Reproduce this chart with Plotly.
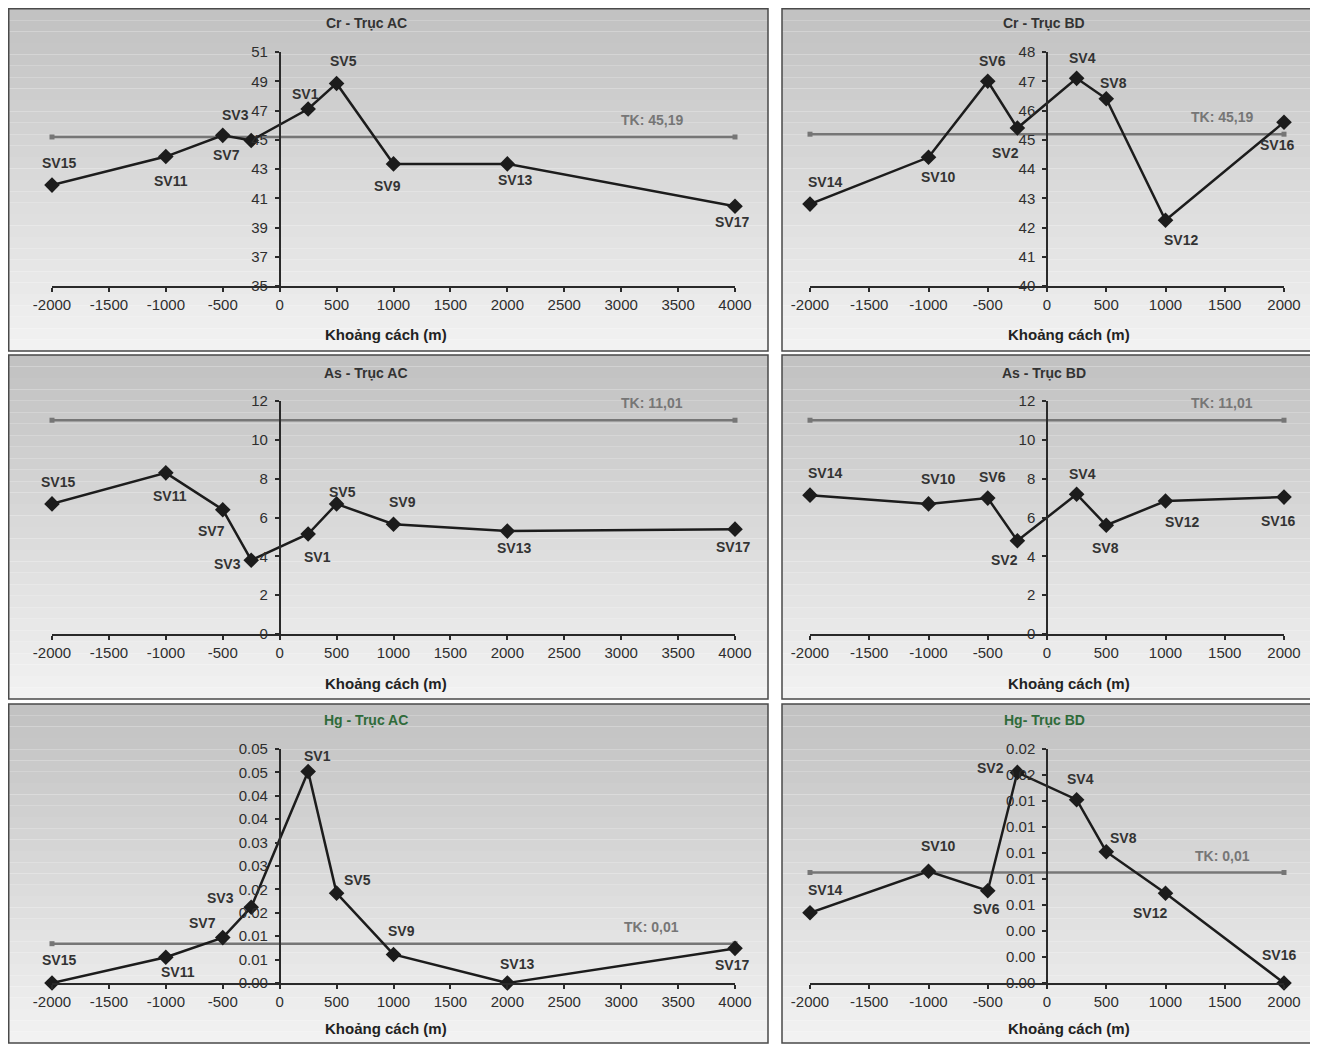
import plotly.graph_objects as go

# page body has an 8px margin: the figure is drawn at (8, 8) in the window
OX, OY = 8, 8
W, H = 1318 - OX, 1046 - OY

# ---------------- DATA ----------------
ac_x = [-2000, -1000, -500, -250, 250, 500, 1000, 2000, 4000]
ac_names = ["SV15", "SV11", "SV7", "SV3", "SV1", "SV5", "SV9", "SV13", "SV17"]
bd_x = [-2000, -1000, -500, -250, 250, 500, 1000, 2000]
bd_names = ["SV14", "SV10", "SV6", "SV2", "SV4", "SV8", "SV12", "SV16"]

cr_ac = [41.9, 43.85, 45.3, 44.95, 47.1, 48.85, 43.35, 43.35, 40.45]
cr_bd = [42.8, 44.4, 47.0, 45.4, 47.1, 46.4, 42.25, 45.6]
as_ac = [6.7, 8.3, 6.4, 3.8, 5.15, 6.7, 5.65, 5.3, 5.4]
as_bd = [7.15, 6.7, 7.0, 4.8, 7.2, 5.6, 6.85, 7.05]
hg_ac = [0.0, 0.0055, 0.0097, 0.0162, 0.0452, 0.0192, 0.0061, 0.0, 0.0074]
hg_bd = [0.0054, 0.0086, 0.0071, 0.0162, 0.0141, 0.0101, 0.0069, 0.0]

tk_cr = 45.19
tk_as = 11.01
tk_hg_ac = 0.0084
tk_hg_bd = 0.0085
tk_cr_text = "TK: 45,19"
tk_as_text = "TK: 11,01"
tk_hg_text = "TK: 0,01"

titles = ["Cr - Trục AC", "Cr - Trục BD", "As - Trục AC", "As - Trục BD",
          "Hg - Trục AC", "Hg- Trục BD"]
x_title = "Khoảng cách (m)"

x_ac_ticks = [-2000, -1500, -1000, -500, 0, 500, 1000, 1500, 2000, 2500, 3000, 3500, 4000]
x_ac_labels = ["-2000", "-1500", "-1000", "-500", "0", "500", "1000", "1500",
               "2000", "2500", "3000", "3500", "4000"]
x_bd_ticks = [-2000, -1500, -1000, -500, 0, 500, 1000, 1500, 2000]
x_bd_labels = ["-2000", "-1500", "-1000", "-500", "0", "500", "1000", "1500", "2000"]

y_cr_ac_ticks = [35, 37, 39, 41, 43, 45, 47, 49, 51]
y_cr_ac_labels = ["35", "37", "39", "41", "43", "45", "47", "49", "51"]
y_cr_bd_ticks = [40, 41, 42, 43, 44, 45, 46, 47, 48]
y_cr_bd_labels = ["40", "41", "42", "43", "44", "45", "46", "47", "48"]
y_as_ticks = [0, 2, 4, 6, 8, 10, 12]
y_as_labels = ["0", "2", "4", "6", "8", "10", "12"]
y_hg_ac_ticks = [0, 0.005, 0.01, 0.015, 0.02, 0.025, 0.03, 0.035, 0.04, 0.045, 0.05]
y_hg_ac_labels = ["0.00", "0.01", "0.01", "0.02", "0.02", "0.03", "0.03", "0.04",
                  "0.04", "0.05", "0.05"]
y_hg_bd_ticks = [0, 0.002, 0.004, 0.006, 0.008, 0.010, 0.012, 0.014, 0.016, 0.018]
y_hg_bd_labels = ["0.00", "0.00", "0.00", "0.01", "0.01", "0.01", "0.01", "0.01",
                  "0.02", "0.02"]

# ---------------- STYLE / LAYOUT ----------------
FONT = "Liberation Sans, Arial, sans-serif"
TXT = "#2e2e2e"
GREEN = "#2f6b3a"
TKC = "#767676"

# label offsets (px, dx right, dy up)
off = [
    [(7, 22), (5, -24), (4, -20), (-16, 25), (-3, 15), (7, 22), (-6, -22), (8, -16), (-3, -16)],
    [(15, 22), (9, -20), (5, 20), (-12, -25), (6, 20), (7, 16), (15, -20), (-7, -23)],
    [(6, 22), (4, -23), (-11, -21), (-24, -4), (9, -23), (6, 12), (9, 22), (7, -17), (-2, -18)],
    [(15, 22), (9, 25), (5, 21), (-13, -19), (6, 20), (-1, -23), (16, -21), (-6, -24)],
    [(7, 23), (12, -15), (-20, 15), (-31, 9), (9, 15), (21, 13), (8, 23), (10, 19), (-3, -17)],
    [(15, 23), (9, 25), (-1, -18), (-27, 4), (4, 21), (17, 14), (-16, -20), (-5, 28)],
]

# window pixel positions
cols_px = [(52, 735), (810, 1284)]
rows_px = [(52, 286), (401, 634), (749, 983)]
frames_x = [(8.75, 768), (782, 1312)]
frames_y = [(8.75, 351), (355, 699), (704, 1043)]
title_x = [366, 1044]
title_y = [23, 373, 720]
xt_x = [386, 1069]
xt_y = [334, 683, 1028]

panels = [
    dict(x=ac_x, y=cr_ac, n=ac_names, tk=tk_cr, tkt=tk_cr_text, yr=[35, 51],
         yt=(y_cr_ac_ticks, y_cr_ac_labels)),
    dict(x=bd_x, y=cr_bd, n=bd_names, tk=tk_cr, tkt=tk_cr_text, yr=[40, 48],
         yt=(y_cr_bd_ticks, y_cr_bd_labels)),
    dict(x=ac_x, y=as_ac, n=ac_names, tk=tk_as, tkt=tk_as_text, yr=[0, 12],
         yt=(y_as_ticks, y_as_labels)),
    dict(x=bd_x, y=as_bd, n=bd_names, tk=tk_as, tkt=tk_as_text, yr=[0, 12],
         yt=(y_as_ticks, y_as_labels)),
    dict(x=ac_x, y=hg_ac, n=ac_names, tk=tk_hg_ac, tkt=tk_hg_text, yr=[0, 0.05],
         yt=(y_hg_ac_ticks, y_hg_ac_labels)),
    dict(x=bd_x, y=hg_bd, n=bd_names, tk=tk_hg_bd, tkt=tk_hg_text, yr=[0, 0.018],
         yt=(y_hg_bd_ticks, y_hg_bd_labels)),
]

fig = go.Figure()
layout = dict(
    width=W, height=H, margin=dict(l=0, r=0, t=0, b=0, pad=0, autoexpand=False),
    paper_bgcolor="white", plot_bgcolor="rgba(0,0,0,0)",
    showlegend=False, font=dict(family=FONT, color=TXT, size=15),
)
shapes = []
annotations = []

def px_x(p):
    return (p - OX) / W

def px_y(p):
    return 1 - (p - OY) / H

# background frames with vertical gradient
NB = 30
for r in range(3):
    for c in range(2):
        x0, x1 = frames_x[c]
        y0, y1 = frames_y[r]
        for b in range(NB):
            t = b / (NB - 1)
            g = int(194 + (242 - 194) * t)
            ya = y0 + (y1 - y0) * b / NB
            yb = y0 + (y1 - y0) * (b + 1) / NB
            shapes.append(dict(type="rect", xref="paper", yref="paper",
                               x0=px_x(x0), x1=px_x(x1), y0=px_y(yb), y1=px_y(ya),
                               fillcolor=f"rgb({g},{g},{g})", line=dict(width=0),
                               layer="below"))
        shapes.append(dict(type="rect", xref="paper", yref="paper",
                           x0=px_x(x0), x1=px_x(x1), y0=px_y(y1), y1=px_y(y0),
                           fillcolor="rgba(0,0,0,0)", line=dict(color="#4a4a4a", width=1.5),
                           layer="below"))

for i, p in enumerate(panels):
    k = i + 1
    r, c = divmod(i, 2)
    xs = "x" if k == 1 else f"x{k}"
    ys = "y" if k == 1 else f"y{k}"
    xa = "xaxis" if k == 1 else f"xaxis{k}"
    ya = "yaxis" if k == 1 else f"yaxis{k}"
    xdom = [px_x(cols_px[c][0]), px_x(cols_px[c][1])]
    ydom = [px_y(rows_px[r][1]), px_y(rows_px[r][0])]
    xr = [p["x"][0], p["x"][-1]]
    xt = (x_ac_ticks, x_ac_labels) if c == 0 else (x_bd_ticks, x_bd_labels)
    ypos = xdom[0] + (0 - xr[0]) / (xr[1] - xr[0]) * (xdom[1] - xdom[0])

    layout[xa] = dict(domain=xdom, range=xr, anchor=ys, showline=True,
                      linecolor="#2a2a2a", linewidth=1.5, ticks="outside",
                      ticklen=4, tickcolor="#2a2a2a", tickwidth=1.5,
                      tickvals=xt[0], ticktext=xt[1], showgrid=False,
                      zeroline=False, automargin=False,
                      tickfont=dict(size=15, color=TXT))
    layout[ya] = dict(domain=ydom, range=p["yr"], anchor="free", position=ypos,
                      showline=True, linecolor="#2a2a2a", linewidth=1.5,
                      ticks="outside", ticklen=4, tickcolor="#2a2a2a", tickwidth=1.5,
                      tickvals=p["yt"][0], ticktext=p["yt"][1], showgrid=False,
                      zeroline=False, ticklabelstandoff=4, automargin=False,
                      tickfont=dict(size=15, color=TXT))

    # TK line
    fig.add_trace(go.Scatter(x=xr, y=[p["tk"], p["tk"]], mode="lines+markers",
                             line=dict(color=TKC, width=2.5),
                             marker=dict(symbol="square", size=5, color=TKC),
                             xaxis=xs, yaxis=ys, cliponaxis=False, hoverinfo="skip"))
    # data line
    fig.add_trace(go.Scatter(x=p["x"], y=p["y"], mode="lines+markers",
                             line=dict(color="#1c1c1c", width=2.5),
                             marker=dict(symbol="diamond", size=12, color="#1c1c1c"),
                             xaxis=xs, yaxis=ys, cliponaxis=False))
    # point labels
    for j, (xv, yv, nm) in enumerate(zip(p["x"], p["y"], p["n"])):
        dx, dy = off[i][j]
        annotations.append(dict(x=xv, y=yv, xref=xs, yref=ys, text=f"<b>{nm}</b>",
                                showarrow=False, xshift=dx, yshift=dy,
                                xanchor="center", yanchor="middle",
                                font=dict(size=14, color="#333333", family=FONT)))
    # TK label
    tkx = 3270 if c == 0 else 1480
    annotations.append(dict(x=tkx, y=p["tk"], xref=xs, yref=ys, text=f"<b>{p['tkt']}</b>",
                            showarrow=False, yshift=17, xanchor="center", yanchor="middle",
                            font=dict(size=14, color=TKC, family=FONT)))
    # panel title
    annotations.append(dict(x=px_x(title_x[c]), y=px_y(title_y[r]), xref="paper",
                            yref="paper", text=f"<b>{titles[i]}</b>", showarrow=False,
                            xanchor="center", yanchor="middle",
                            font=dict(size=14, color=GREEN if r == 2 else "#333333",
                                      family=FONT)))
    # x-axis title
    annotations.append(dict(x=px_x(xt_x[c]), y=px_y(xt_y[r]), xref="paper",
                            yref="paper", text=f"<b>{x_title}</b>", showarrow=False,
                            xanchor="center", yanchor="middle",
                            font=dict(size=15, color="#222222", family=FONT)))

layout["shapes"] = shapes
layout["annotations"] = annotations
fig.update_layout(**layout)
fig.write_html("out.html")
